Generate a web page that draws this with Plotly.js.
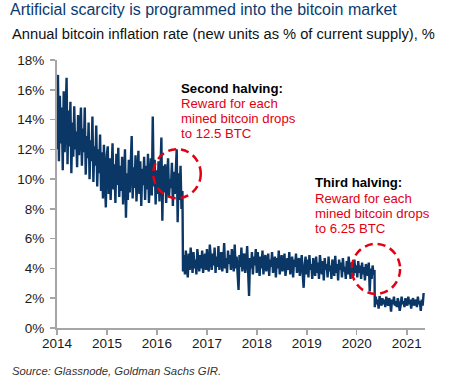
<!DOCTYPE html>
<html>
<head>
<meta charset="utf-8">
<script src="https://cdn.plot.ly/plotly-3.0.1.min.js"></script>
<style>html,body{margin:0;padding:0;background:#fff;}#chart{width:464px;height:386px;}</style>
</head>
<body>
<div id="chart"></div>
<script>
// Weekly readings (annual inflation rate, %) for each reward era
const segmentStarts = ['2014-01-01', '2016-07-10', '2020-05-12'];
const stepDays = 7;

const rateEra25 = [
  12.0, 17.0, 11.2, 15.6, 12.4, 14.8, 10.6, 15.9, 11.8, 13.9, 16.8, 11.0, 14.6, 12.2, 15.2, 10.4, 13.8, 11.5, 14.9, 12.0, 13.2, 10.8, 14.3, 11.6, 13.6, 14.8,
  10.9, 13.4, 11.8, 14.8, 10.3, 12.9, 11.4, 13.8, 10.0, 12.6, 11.2, 14.2, 9.8, 12.2, 10.9, 13.6, 9.5, 12.0, 10.4, 13.0, 9.2, 11.8, 8.7, 12.3, 10.1, 8.1, 11.6,
  12.2, 9.0, 11.4, 8.6, 10.8, 12.4, 9.3, 11.0, 8.4, 11.7,
  9.6, 12.1, 8.8, 10.9, 9.2, 11.5, 8.3, 10.6, 12.0, 7.4,
  10.4, 8.6, 11.3, 9.1, 11.8, 12.9, 8.7, 10.8, 9.4, 11.6,
  8.5, 10.5, 11.9, 9.0, 11.2, 8.2, 10.7, 9.6, 11.5, 8.6,
  10.9, 9.3, 11.7, 8.4, 10.4, 11.4, 8.9, 14.2, 9.5, 11.3, 8.3, 10.6,
  9.0, 11.2, 8.5, 10.6, 12.8, 7.2, 10.9, 9.1, 11.0, 8.4,
  10.3, 11.4, 8.8, 10.0, 9.4, 11.1, 8.2, 10.5, 9.0, 10.8,
  12.0, 7.1, 10.4, 8.6, 10.9, 8.0, 9.2
];

const rateEra12_5 = [
  3.8, 4.9, 3.6, 5.2, 4.1, 3.4, 5.0, 3.9, 5.4, 4.2, 3.7, 5.1, 4.0, 4.6, 3.6, 5.3, 4.3, 3.8, 4.9, 4.0, 5.2, 3.7, 4.5, 5.0, 3.9,
  5.3, 4.1, 3.8, 5.6, 4.4, 3.9, 5.0, 4.2, 5.4, 3.7, 4.8, 4.1, 5.5, 3.9, 4.6, 5.1, 3.8, 4.4, 5.7, 4.0, 4.7, 3.7, 5.2, 4.3, 4.9, 3.9,
  5.3, 4.2, 3.8, 5.6, 4.0, 4.8, 3.6, 2.55, 4.9, 4.1, 5.4, 3.8, 4.6, 5.0, 3.7, 4.3, 5.5, 3.9, 2.15, 4.7, 4.0, 5.1, 3.6, 4.8, 4.2, 5.3,
  3.7, 5.1, 4.2, 3.5, 4.8, 4.0, 5.2, 3.6, 4.5, 4.9,
  3.8, 4.3, 5.0, 3.5, 4.6, 4.1, 5.1, 3.7, 4.4, 4.8,
  3.4, 4.7, 4.0, 5.2, 3.6, 4.3, 4.9, 3.8, 4.5, 5.0,
  3.5, 4.2, 4.7, 3.9, 5.1, 3.6, 4.4, 4.8, 3.4, 4.6,
  4.1, 5.0, 3.7, 4.3, 4.7, 3.5, 4.5, 4.9, 3.6, 2.7, 4.2, 4.8, 3.6,
  4.6, 3.4, 4.9, 3.9, 4.3, 3.3, 4.7, 4.0, 3.5, 4.8,
  3.7, 4.4, 3.3, 4.9, 4.1, 3.6, 4.5, 3.2, 4.7, 3.9,
  4.3, 3.4, 4.8, 3.8, 4.2, 3.3, 4.6, 4.0, 3.5, 4.85,
  3.7, 4.3, 3.2, 4.6, 3.9, 4.4, 3.4, 4.7, 3.8, 4.1,
  3.3, 4.5, 3.6, 4.8, 3.9, 3.3, 4.4, 4.0, 3.5, 4.6, 3.7, 4.2,
  3.4, 4.5, 3.7, 4.2, 3.3, 4.4, 3.6, 4.1, 3.2, 4.3,
  3.8, 3.5, 4.4, 2.45, 4.0, 3.3, 4.2, 3.6, 3.9
];

const rateEra6_25 = [
  1.4, 2.1, 1.6, 1.9, 1.3, 2.15, 1.7, 1.5, 2.0, 1.6,
  1.9, 1.4, 2.1, 1.7, 1.5, 2.0, 1.8, 1.1, 1.9, 1.6,
  2.1, 1.5, 1.8, 1.4, 2.0, 1.7, 1.15, 1.5, 2.1, 1.6,
  1.8, 1.4, 2.0, 1.7, 1.5, 2.1, 1.6, 1.9, 1.3, 1.8,
  2.0, 1.5, 1.7, 1.9, 1.4, 2.1, 1.6, 1.8, 1.15, 1.9, 1.5, 2.35
];

const yearTicks = [2014, 2015, 2016, 2017, 2018, 2019, 2020, 2021];
const yTickVals = [0, 2, 4, 6, 8, 10, 12, 14, 16, 18];

function weeklyDates(start, n) {
  const t0 = new Date(start + 'T00:00:00Z').getTime();
  const out = [];
  for (let i = 0; i < n; i++) out.push(new Date(t0 + i * stepDays * 86400000).toISOString().slice(0, 10));
  return out;
}

const segs = [rateEra25, rateEra12_5, rateEra6_25];
let xs = [], ys = [];
segs.forEach((s, k) => { xs = xs.concat(weeklyDates(segmentStarts[k], s.length)); ys = ys.concat(s); });

const W = 464, H = 386;
const M = {l: 57, r: 39, t: 60, b: 58};
const pw = W - M.l - M.r, ph = H - M.t - M.b;
const px2x = p => (p - M.l) / pw;
const px2y = p => (H - M.b - p) / ph;

const red = 'rgb(226,0,18)';
const baseFont = 'Liberation Sans, Arial, Helvetica, sans-serif';

function txt(text, xpx, ypx, opts) {
  return Object.assign({
    text: text, xref: 'paper', yref: 'paper', x: px2x(xpx), y: px2y(ypx),
    xanchor: 'left', yanchor: 'middle', showarrow: false,
    font: {family: baseFont, size: 13.2, color: red}
  }, opts || {});
}

const annotations = [
  txt('Annual bitcoin inflation rate (new units as % of current supply), %', 10, 33.5, {font: {family: baseFont, size: 14.7, color: '#111'}}),
  txt('<i>Source: Glassnode, Goldman Sachs GIR.</i>', 10, 370.5, {font: {family: baseFont, size: 11.3, color: '#333'}}),
  txt('<b>Second halving:</b>', 179, 88.5, {font: {family: baseFont, size: 13.2, color: '#000'}}),
  txt('Reward for each', 179, 103.5),
  txt('mined bitcoin drops', 179, 118.5),
  txt('to 12.5 BTC', 179, 133),
  txt('<b>Third halving:</b>', 313, 182.7, {font: {family: baseFont, size: 13.2, color: '#000'}}),
  txt('Reward for each', 313, 198),
  txt('mined bitcoin drops', 313, 213.5),
  txt('to 6.25 BTC', 313, 228.5)
];

const shapes = [
  {type: 'circle', xref: 'x', yref: 'y', x0: '2015-12-06', x1: '2016-11-17', y0: 8.72, y1: 12.01,
   line: {color: red, width: 2.5, dash: '8px,5px'}},
  {type: 'circle', xref: 'x', yref: 'y', x0: '2019-11-25', x1: '2020-11-13', y0: 2.29, y1: 5.65,
   line: {color: red, width: 2.5, dash: '8px,5px'}}
];

const axisGray = '#a6a6a6';

Plotly.newPlot('chart', [{
  x: xs, y: ys, type: 'scatter', mode: 'lines',
  line: {color: '#0b3766', width: 2.4}, hoverinfo: 'skip'
}], {
  width: W, height: H, margin: M,
  paper_bgcolor: '#fff', plot_bgcolor: '#fff', showlegend: false,
  font: {family: baseFont, size: 13, color: '#1a1a1a'},
  title: {text: 'Artificial scarcity is programmed into the bitcoin market',
    x: 10 / W, xref: 'container', xanchor: 'left', y: 1 - 9 / H, yref: 'container', yanchor: 'middle',
    font: {family: baseFont, size: 16, color: '#0b3a6e'}},
  xaxis: {type: 'date', range: ['2014-01-01', '2021-05-14'],
    tickvals: yearTicks.map(y => y + '-01-01'), ticktext: yearTicks.map(String),
    ticks: 'outside', ticklen: 5, tickwidth: 1.5, tickcolor: axisGray,
    showline: true, linecolor: axisGray, linewidth: 2, showgrid: false, zeroline: false,
    ticklabelstandoff: -3,
    tickfont: {family: baseFont, size: 13.5, color: '#1a1a1a'}, fixedrange: true},
  yaxis: {range: [0, 18], tickvals: yTickVals, ticktext: yTickVals.map(v => v + '%'),
    ticks: 'outside', ticklen: 5, tickwidth: 1.5, tickcolor: axisGray,
    showline: true, linecolor: axisGray, linewidth: 2, showgrid: false, zeroline: false,
    ticklabelstandoff: 3,
    tickfont: {family: baseFont, size: 13.5, color: '#1a1a1a'}, fixedrange: true},
  annotations: annotations,
  shapes: shapes
}, {displayModeBar: false, staticPlot: true});
</script>
</body>
</html>
